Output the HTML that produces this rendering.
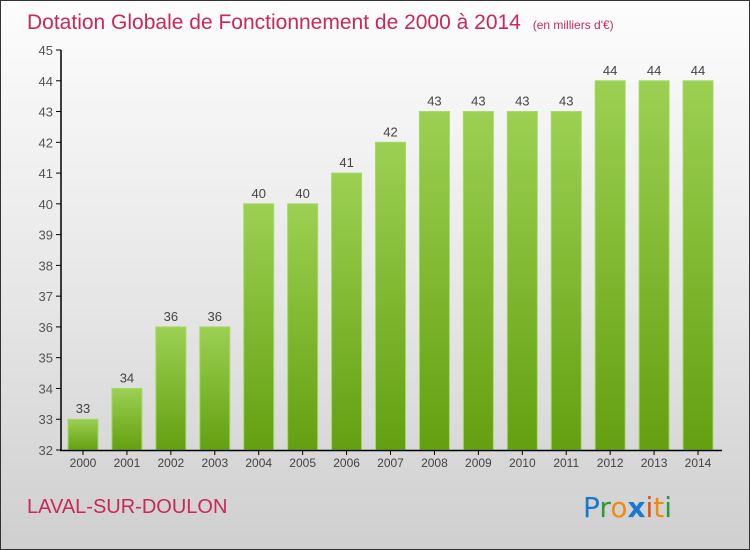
<!DOCTYPE html>
<html><head><meta charset="utf-8"><style>
body{margin:0}
#c{width:750px;height:550px;position:relative;box-sizing:border-box;border:1px solid #333;background:linear-gradient(#fdfdfd,#e6e6e6 55%,#cfcfcf);font-family:"Liberation Sans",sans-serif;overflow:hidden}
</style></head><body>
<div id="c">
<svg width="750" height="550" style="position:absolute;left:-1px;top:-1px" id="s">
<defs><linearGradient id="g" x1="0" y1="0" x2="0" y2="1"><stop offset="0" stop-color="#9cd052"/><stop offset="1" stop-color="#63a010"/></linearGradient></defs>
<text x="27" y="29" font-size="21" fill="#c8285a">Dotation Globale de Fonctionnement de 2000 à 2014 <tspan font-size="12" dx="6">(en milliers d'€)</tspan></text>
<text x="27" y="513" font-size="20" fill="#c8285a">LAVAL-SUR-DOULON</text>
<g font-size="28" font-family="'DejaVu Sans',sans-serif">
<text x="583" y="517"><tspan fill="#1a78d0">P</tspan><tspan fill="#2a9a3a">r</tspan><tspan fill="#f08a10">o</tspan><tspan fill="#1a78d0" font-weight="bold">x</tspan><tspan fill="#e05010">i</tspan><tspan fill="#f08a10">t</tspan><tspan fill="#2a9a3a">i</tspan></text></g>
<g id="plot"></g>
</svg></div>
<script>
const years=["2000","2001","2002","2003","2004","2005","2006","2007","2008","2009","2010","2011","2012","2013","2014"];
const values=[33,34,36,36,40,40,41,42,43,43,43,43,44,44,44];
const yTicks=[32,33,34,35,36,37,38,39,40,41,42,43,44,45];
const NS="http://www.w3.org/2000/svg";
const g=document.getElementById('plot');
const y=v=>450-(v-32)*400/13;
const x=i=>83+i*43.93;
function mk(t,a){const e=document.createElementNS(NS,t);for(const k in a)e.setAttribute(k,a[k]);g.appendChild(e);return e;}
yTicks.forEach(v=>{
 const t=mk('line',{x1:56,x2:61,y1:y(v),y2:y(v),stroke:'#000'});
 
 
 const l=mk('text',{x:53,y:y(v)+5,'text-anchor':'end','font-size':13,fill:'#555'});l.textContent=v;
 
 
});
values.forEach((v,i)=>{
 const b=mk('rect',{x:x(i)-15,y:y(v),width:30,height:450-y(v),fill:'url(#g)',stroke:'#a6d86a','stroke-width':1});
 
 
 const l=mk('text',{x:x(i),y:y(v)-6,'text-anchor':'middle','font-size':13,fill:'#444'});l.textContent=v;
 
 
 const t=mk('line',{x1:x(i),x2:x(i),y1:450,y2:455,stroke:'#000'});
 
 
 const xl=mk('text',{x:x(i),y:467,'text-anchor':'middle','font-size':12,fill:'#444'});xl.textContent=years[i];
 
 
});
const ya=mk('line',{x1:61,x2:61,y1:50,y2:451,stroke:'#000','stroke-width':1.5});


const xa=mk('line',{x1:60,x2:722,y1:450.5,y2:450.5,stroke:'#000','stroke-width':1.5});


</script>
</body></html>
